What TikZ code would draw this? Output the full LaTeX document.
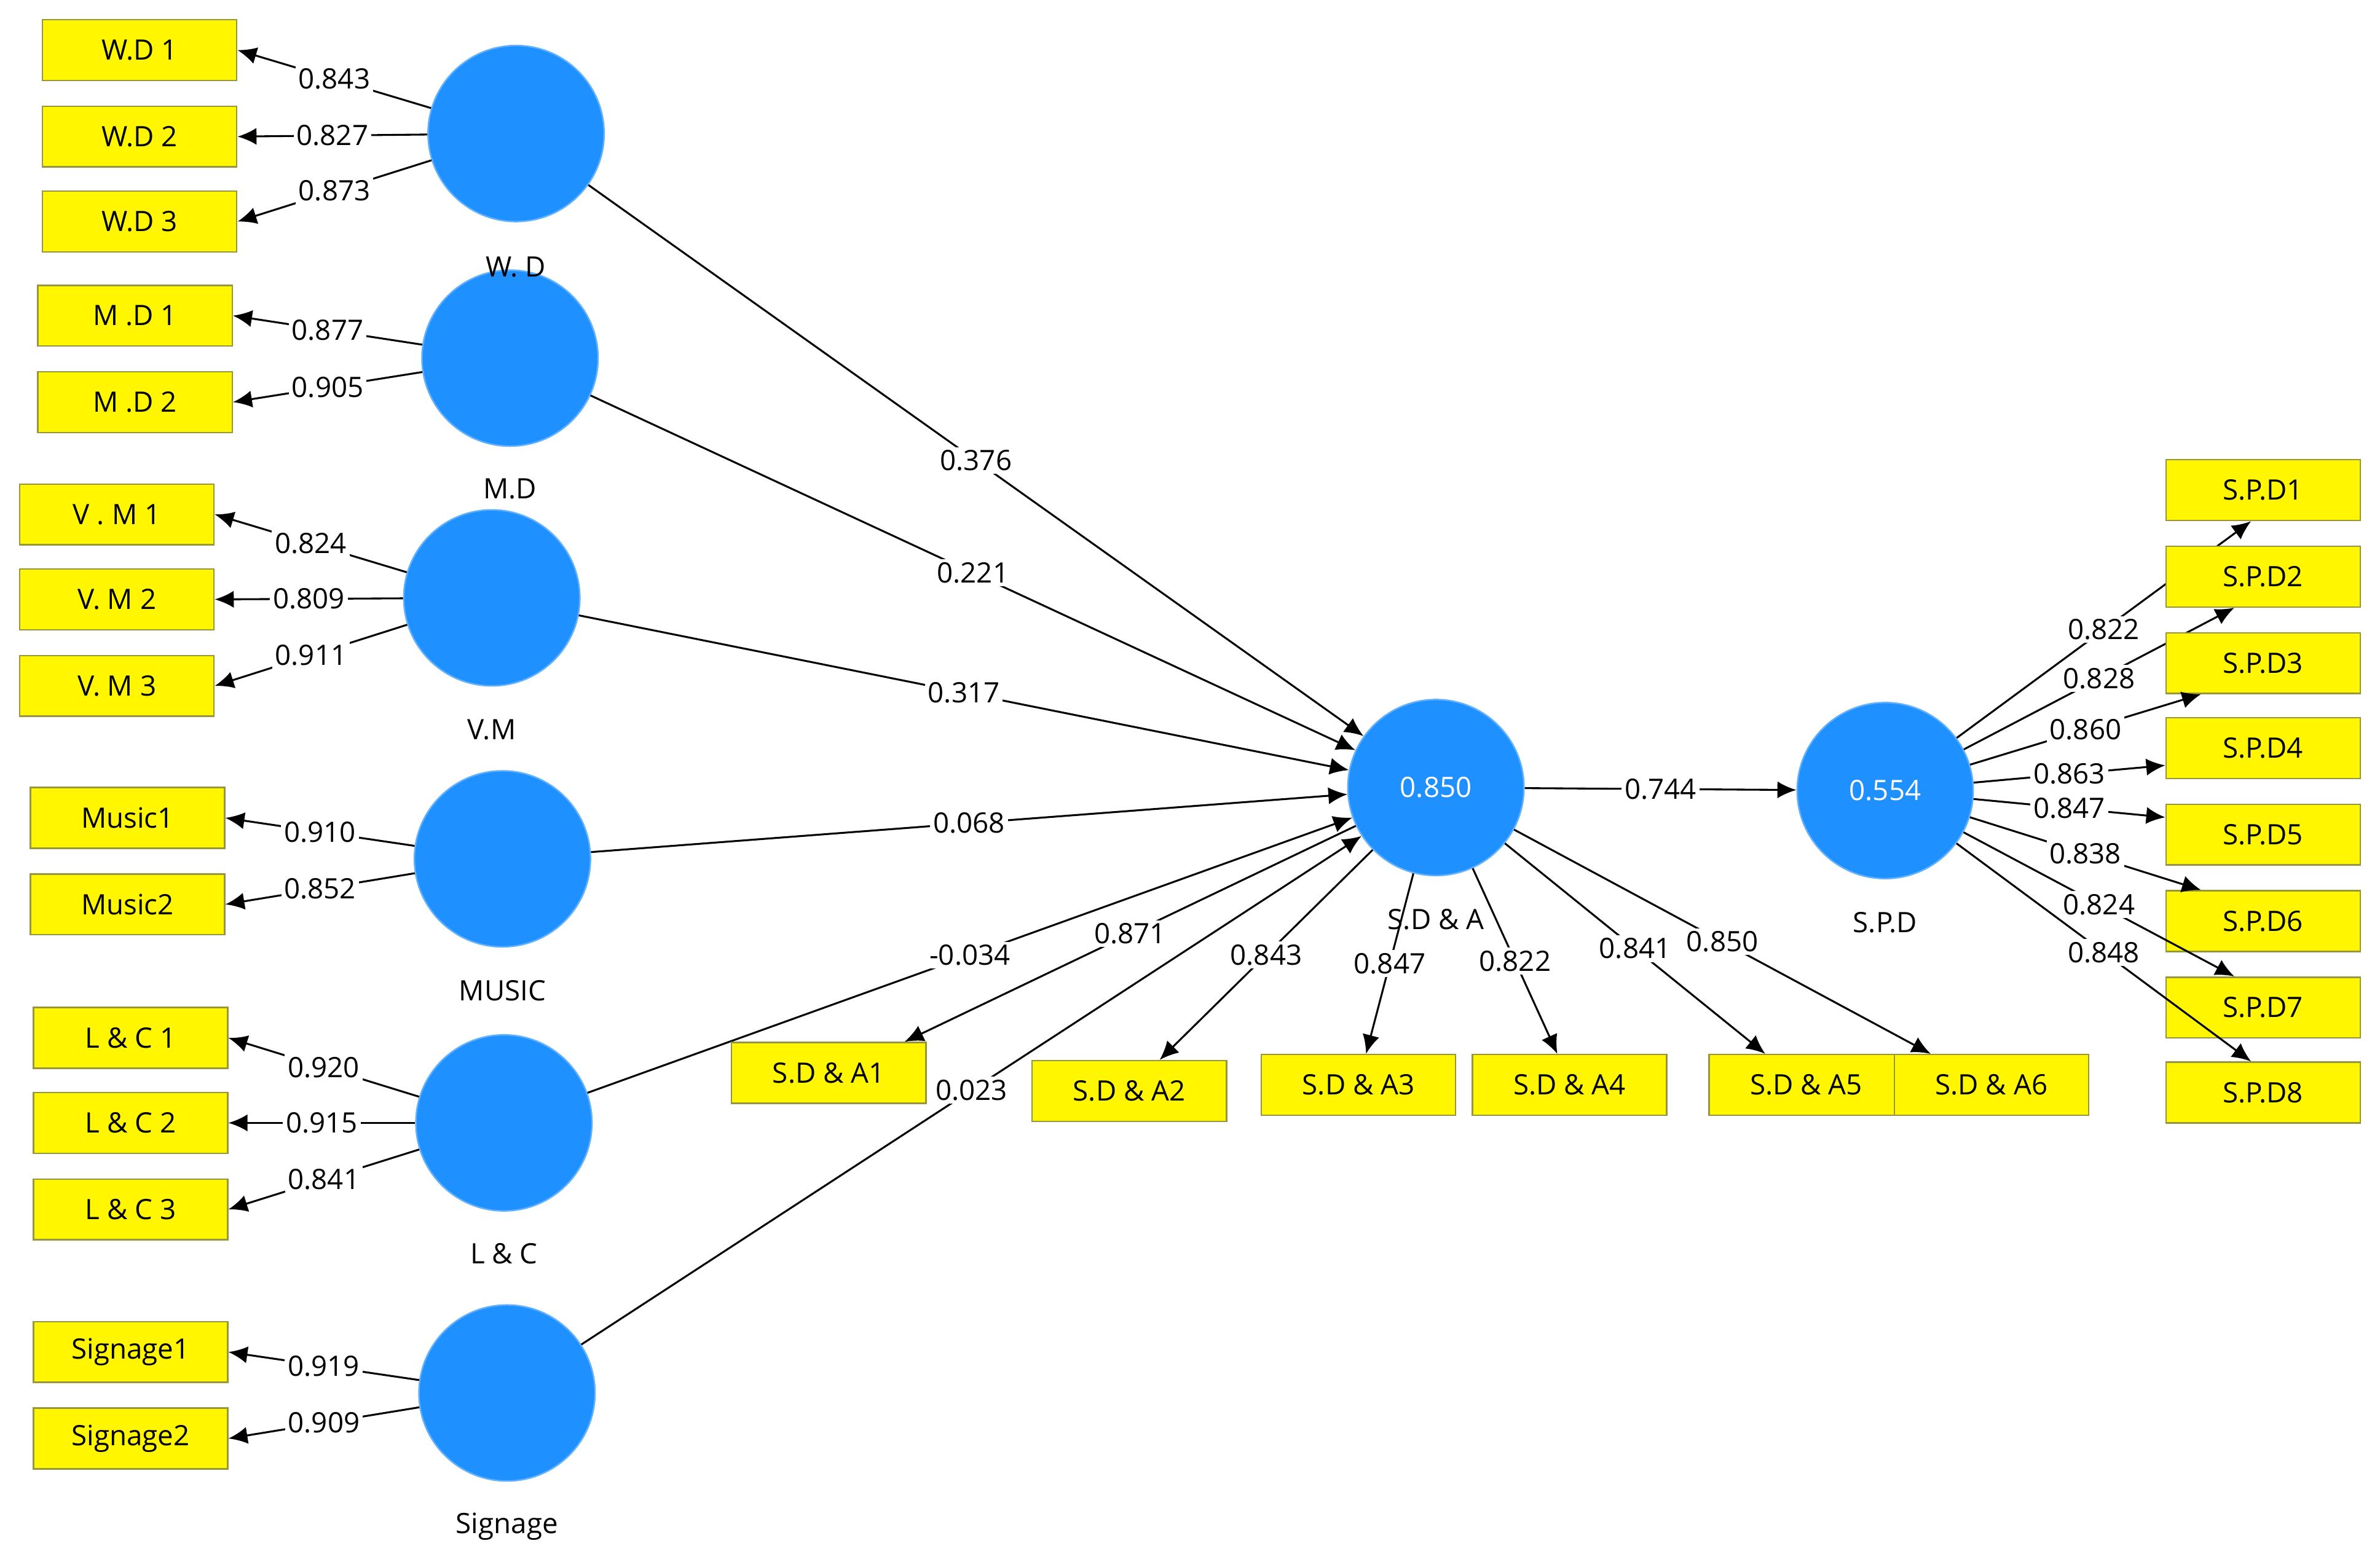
\documentclass[tikz,border=0pt]{standalone}
\usepackage{fontspec}
\setmainfont{Open Sans}
\usetikzlibrary{arrows.meta}
\definecolor{cblue}{RGB}{30,144,255}
\definecolor{cyel}{RGB}{255,246,0}
\definecolor{cedge}{RGB}{150,150,60}

\begin{document}
\begin{tikzpicture}[y=0.4pt, x=0.4pt, yscale=-1,
  font=\fontsize{7.4}{9}\selectfont,
  lv/.style={circle, fill=cblue, draw=cblue!70!white, minimum size=46.4pt, inner sep=0pt, text=white},
  mv/.style={rectangle, fill=cyel, draw=cedge, minimum width=51.2pt, minimum height=16pt, inner sep=0pt},
  lvname/.style={inner sep=0pt},
  ld/.style={-{Latex[length=5pt,width=4.5pt]}, line width=0.5pt},
  wt/.style={fill=white, inner sep=0.8pt, pos=0.5}]
\useasboundingbox (0,0) rectangle (1568,1029);
% latent variables
\node[lv] (wd) at (340,88) {};
\node[lv] (md) at (336,236) {};
\node[lv] (vm) at (324,394) {};
\node[lv] (mu) at (331,566) {};
\node[lv] (lc) at (332,740) {};
\node[lv] (sg) at (334,918) {};
\node[lv] (sda) at (946,519) {0.850};
\node[lv] (spd) at (1242,521) {0.554};
\node[lvname] (twd) at (340,176) {W. D};
\node[lvname] (tmd) at (336,322) {M.D};
\node[lvname] (tvm) at (324,481) {V.M};
\node[lvname] (tmu) at (331,653) {MUSIC};
\node[lvname] (tlc) at (332,826) {L \& C};
\node[lvname] (tsg) at (334,1006) {Signage};
\node[lvname] (tsda) at (946,606) {S.D \& A};
\node[lvname] (tspd) at (1242,608) {S.P.D};
% indicators, left side
\foreach \n/\x/\y/\t/\v/\f in {wd1/92/33/W.D 1/0.843/wd, wd2/92/90/W.D 2/0.827/wd,
    wd3/92/146/W.D 3/0.873/wd, md1/89/208/M .D 1/0.877/md, md2/89/265/M .D 2/0.905/md,
    vm1/77/339/V . M 1/0.824/vm, vm2/77/395/V. M 2/0.809/vm, vm3/77/452/V. M 3/0.911/vm,
    mu1/84/539/Music1/0.910/mu, mu2/84/596/Music2/0.852/mu,
    lc1/86/684/L \& C 1/0.920/lc, lc2/86/740/L \& C 2/0.915/lc, lc3/86/797/L \& C 3/0.841/lc,
    sg1/86/891/Signage1/0.919/sg, sg2/86/948/Signage2/0.909/sg}{
  \node[mv] (\n) at (\x,\y) {\t};
  \draw[ld] (\f) -- (\n.east) node[wt] {\v};
}
% paths
\foreach \f/\v in {wd/0.376, md/0.221, vm/0.317, mu/0.068, lc/-0.034, sg/0.023}
  \draw[ld] (\f) -- (sda) node[wt] {\v};
\draw[ld] (sda) -- (spd) node[wt] {0.744};
% indicators of S.D & A
\foreach \n/\x/\y/\t/\s/\v in {a1/546/707/S.D \& A1/50/0.871, a2/744/719/S.D \& A2/20/0.843,
    a3/895/715/S.D \& A3/5/0.847, a4/1034/715/S.D \& A4/-8/0.822, a5/1190/715/S.D \& A5/-27/0.841,
    a6/1312/715/S.D \& A6/-40/0.850}{
  \node[mv] (\n) at (\x,\y) {\t};
  \draw[ld] (sda) -- ([xshift=\s*0.4pt]\n.north) node[wt] {\v};
}
% indicators of S.P.D
\foreach \i/\y/\s/\a/\v in {1/323/36/205/0.822, 2/380/25/205/0.828, 3/437/3/205/0.860, 4/493/0/190/0.863,
    5/550/0/170/0.847, 6/607/3/155/0.838, 7/664/25/155/0.824, 8/720/36/155/0.848}{
  \node[mv] (d\i) at (1491,\y) {S.P.D\i};
  \draw[ld] (spd) -- ([xshift=\s*0.4pt]d\i.\a) node[wt] {\v};
}
\end{tikzpicture}
\end{document}
